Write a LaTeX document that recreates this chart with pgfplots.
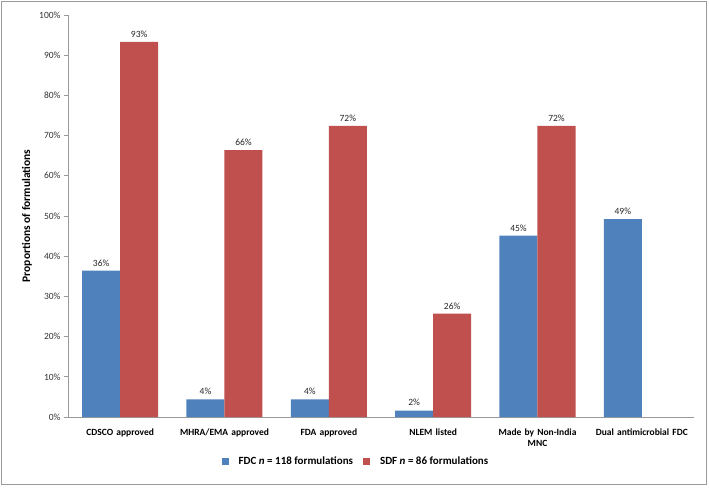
\documentclass[border=0pt]{standalone}
\usepackage{pgfplots}
\pgfplotsset{compat=1.18}
\usepackage{fontspec}
\setmainfont{Carlito}
\definecolor{fdcblue}{HTML}{4F81BD}
\definecolor{sdfred}{HTML}{C0504D}
\definecolor{axgray}{HTML}{9A9A9A}
\begin{document}
\begin{tikzpicture}
\useasboundingbox (-68pt,-70pt) rectangle (641pt,417pt);
\draw[axgray, line width=1pt] (-66pt,-67pt) rectangle (638pt,415pt);
\begin{axis}[
  at={(0pt,0pt)}, anchor=south west,
  scale only axis, width=626pt, height=402pt,
  ybar=0pt, bar width=38pt,
  xmin=-0.5, xmax=5.5, ymin=0, ymax=100,
  axis lines=left, axis line style={-, axgray, line width=0.8pt},
  xtick=data,
  xticklabels={CDSCO approved, MHRA/EMA approved, FDA approved, NLEM  listed, {Made by Non-India\\MNC}, Dual antimicrobial FDC},
  xticklabel style={font=\fontsize{9.5}{11}\selectfont\bfseries, align=center, text width=110pt, yshift=-4pt},
  xtick style={draw=none},
  ytick={0,10,...,100},
  yticklabel={\pgfmathprintnumber{\tick}\%},
  yticklabel style={font=\fontsize{9.5}{11}\selectfont, text=black!80},
  ytick style={axgray, line width=0.8pt},
  tick align=outside, major tick length=4pt,
  /pgf/number format/assume math mode=true,
  ylabel={\textbf{Proportions of formulations}},
  ylabel style={font=\fontsize{11.5}{13}\selectfont, at={(-0.0655,0.5)}, anchor=center},
  nodes near coords={\pgfmathprintnumber[fixed,precision=0]{\pgfplotspointmeta}\%},
  nodes near coords style={font=\fontsize{9.5}{11}\selectfont, text=black!85, yshift=1pt},
  legend columns=2,
  legend style={at={(0.46,-0.1095)}, anchor=center, draw=none, font=\fontsize{11}{13}\selectfont, column sep=8pt},
  legend image code/.code={\fill[#1] (0pt,-3.5pt) rectangle (7pt,3.5pt);},
]
\addplot[fill=fdcblue, draw=none] coordinates {(0,36.4) (1,4.4) (2,4.4) (3,1.6) (4,45.1) (5,49.2)};
\addplot[fill=sdfred, draw=none] coordinates {(0,93.3) (1,66.4) (2,72.4) (3,25.7) (4,72.4)};
\legend{\textbf{FDC \textit{n} = 118 formulations}, \textbf{SDF \textit{n} = 86 formulations}}
\end{axis}
\end{tikzpicture}
\end{document}
